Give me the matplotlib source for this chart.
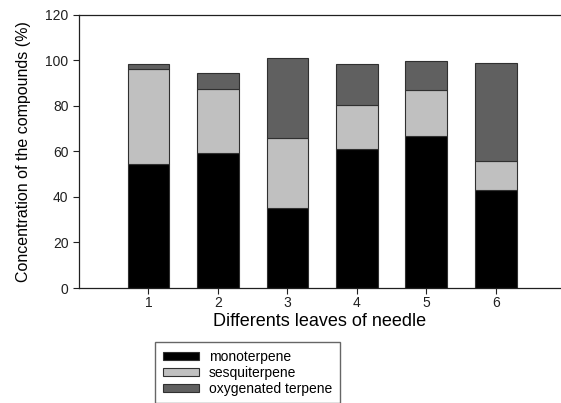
import numpy as np
import matplotlib
matplotlib.use('Agg')
import matplotlib.pyplot as plt

plt.rcParams['font.family'] = ['Liberation Sans', 'DejaVu Sans']

leaves = [1, 2, 3, 4, 5, 6]
mono = [54.6, 59.1, 35.0, 60.9, 66.7, 43.0]
sesqui = [41.7, 28.3, 31.0, 19.4, 20.2, 12.6]
oxy = [1.9, 6.8, 34.8, 18.2, 12.6, 43.3]

fig = plt.figure(figsize=(5.61, 4.03), dpi=100)
ax = fig.add_axes([79 / 561, 1 - 288 / 403, 1 - 79 / 561, (288 - 14.7) / 403])

edge = '#303030'
b1 = ax.bar(leaves, mono, width=0.6, color='black', edgecolor=edge, linewidth=0.8,
            label='monoterpene')
b2 = ax.bar(leaves, sesqui, width=0.6, bottom=mono, color='#c0c0c0', edgecolor=edge,
            linewidth=0.8, label='sesquiterpene')
bottom2 = np.array(mono) + np.array(sesqui)
b3 = ax.bar(leaves, oxy, width=0.6, bottom=bottom2, color='#606060', edgecolor=edge,
            linewidth=0.8, label='oxygenated terpene')

ax.set_xlim(0, 6.94)
ax.set_ylim(0, 120)
ax.set_xticks(leaves)
ax.set_yticks(range(0, 121, 20))
ax.spines['right'].set_visible(False)
for s in ['left', 'bottom', 'top']:
    ax.spines[s].set_linewidth(0.9)
    ax.spines[s].set_color('#202020')
ax.tick_params(direction='out', length=4, width=0.8, labelsize=10, colors='#202020')
ax.tick_params(axis='x', pad=2)

ax.set_xlabel('Differents leaves of needle', fontsize=13, labelpad=2)
ax.set_ylabel('Concentration of the compounds (%)', fontsize=11.5, labelpad=10)

fig.legend(handles=[b1, b2, b3], loc='upper left',
           bbox_to_anchor=(155 / 561, 1 - 342 / 403),
           fontsize=10, frameon=True, fancybox=False, edgecolor='#404040',
           handlelength=2.6, handleheight=0.5, labelspacing=0.15,
           borderpad=0.55, handletextpad=0.72, borderaxespad=0)

fig.savefig('out.png', dpi=100)
